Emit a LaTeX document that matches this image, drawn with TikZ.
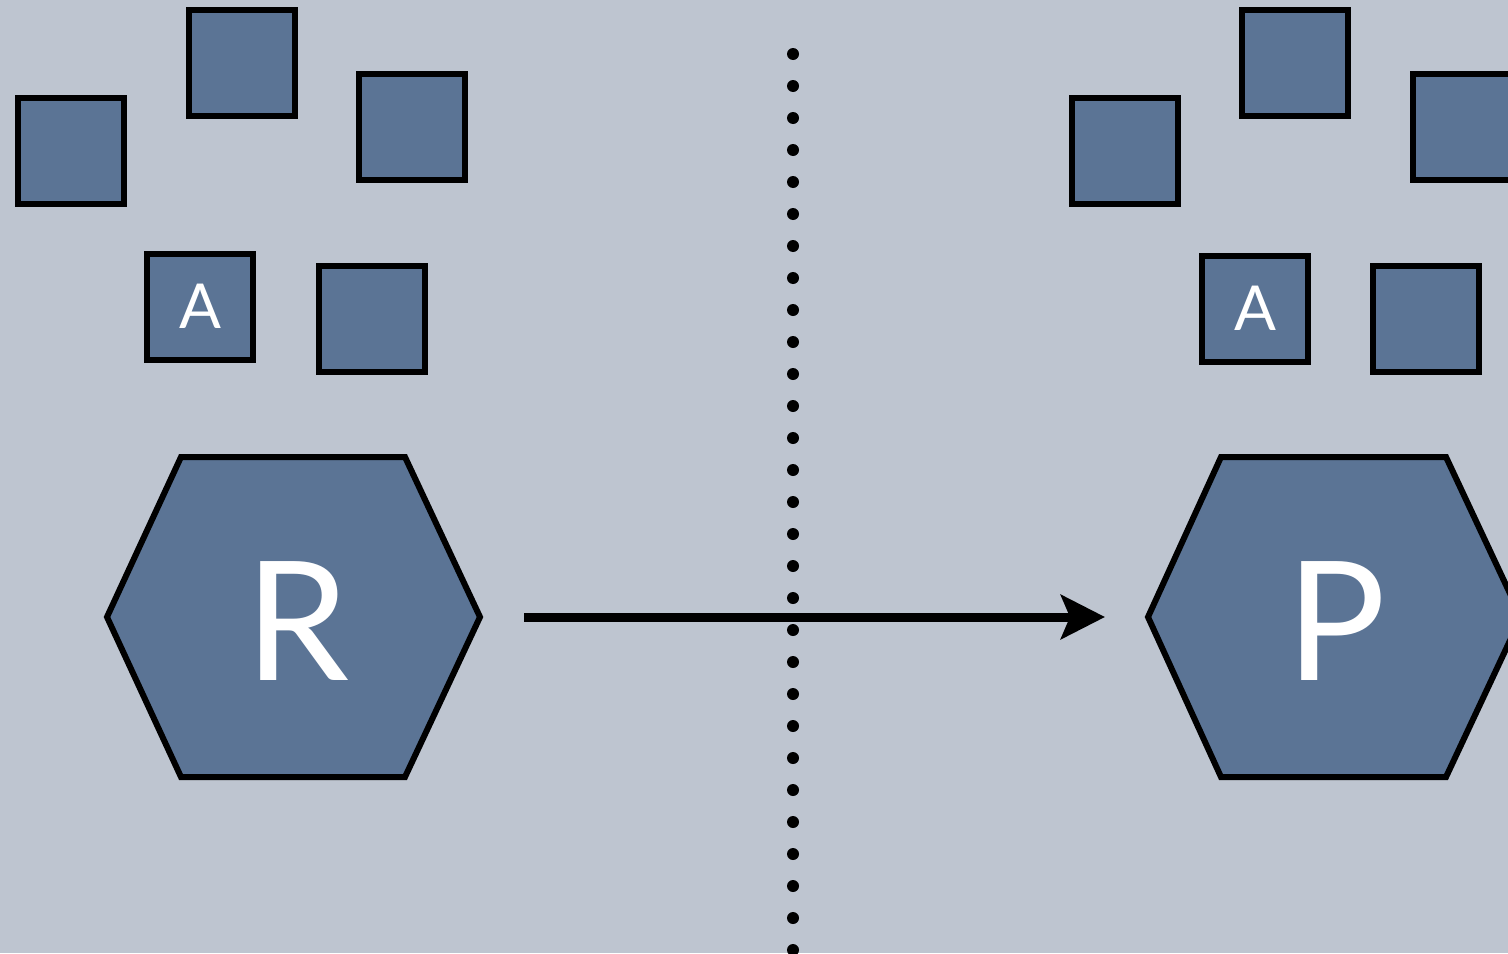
\documentclass[tikz,border=0pt]{standalone}
\usepackage{fontspec}
\setmainfont{Lato}
\usepackage{tikz}
\usetikzlibrary{arrows.meta}
\definecolor{slatebg}{HTML}{BEC5D0}
\definecolor{slatetile}{HTML}{5B7495}
\tikzset{
  tile/.style={draw=black,line width=3pt,fill=slatetile,minimum size=53pt,
    inner sep=0pt,text=white,font=\fontsize{31}{31}\selectfont},
  hexa/.style={draw=black,line width=3pt,fill=slatetile,line join=miter},
  biglabel/.style={text=white,inner sep=0pt,anchor=base,font=\fontsize{83}{83}\selectfont}
}
\begin{document}
\begin{tikzpicture}[x=0.5pt,y=-0.5pt]
    \fill[slatebg] (0,0) rectangle (1508,953);
    \useasboundingbox (0,0) rectangle (1508,953);
    %dotted divider
    \foreach \k in {0,...,28}
        \fill[black] (793,54+32*\k) circle (6);
    %small tiles, left side
    \node[tile] (tl1) at (70.5,150.5) {};
    \node[tile] (tl2) at (241.5,62.5) {};
    \node[tile] (tl3) at (412,126.5) {};
    \node[tile] (tlA) at (200,306.5) {};
    \node[tile] (tl5) at (372,318.5) {};
    \node[text=white,inner sep=0pt,anchor=base,font=\fontsize{31}{31}\selectfont] (labA) at (200,328) {A};
    %small tiles, right side
    \node[tile] (tr1) at (1124.5,150.5) {};
    \node[tile] (tr2) at (1295,62.5) {};
    \node[tile] (tr3) at (1465.5,126.5) {};
    \node[tile] (trA) at (1255,308.5) {};
    \node[tile] (tr5) at (1425.5,318.5) {};
    \node[text=white,inner sep=0pt,anchor=base,font=\fontsize{31}{31}\selectfont] (labA2) at (1255,330) {A};
    %hexagons
    \draw[hexa] (181,457) -- (405,457) -- (480,617) -- (405,777) -- (181,777) -- (107,617) -- cycle;
    \draw[hexa] (1221,457) -- (1446,457) -- (1521,617) -- (1446,777) -- (1221,777) -- (1148,617) -- cycle;
    \node[biglabel] (R) at (297,680) {R};
    \node[biglabel] (P) at (1336,680) {P};
    %reaction arrow
    \coordinate (arrL) at (524,617);
    \coordinate (arrR) at (1105,617);
    \draw[line width=4.5pt,-{Stealth[length=22pt,width=22pt,inset=4.5pt]}] (arrL) -- (arrR);
\end{tikzpicture}
\end{document}
